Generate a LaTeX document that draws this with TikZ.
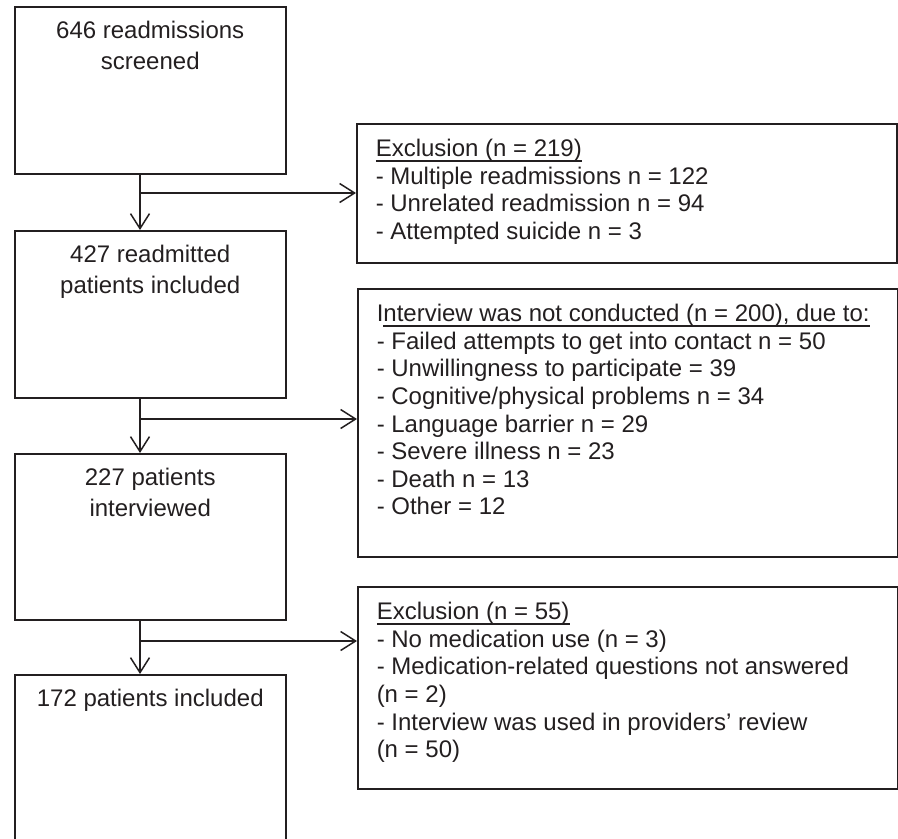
\documentclass[tikz,border=0pt]{standalone}
\usepackage{fontspec}
\setmainfont{Liberation Sans}
\usetikzlibrary{arrows.meta,positioning,calc}
\definecolor{fc-ink}{HTML}{231F20}

% text blocks with a fixed height, first baseline set by a strut
\newcommand{\stagetext}[2]{\parbox[t][#1][t]{271pt}{\centering\rule{0pt}{32pt}#2}}
\newcommand{\droptext}[2]{\parbox[t][#1][t]{502pt}{\raggedright\rule{0pt}{33pt}#2}}
% underline touching the descenders
\newcommand{\headline}[1]{\setbox0\hbox{#1}\rlap{\rule[-5pt]{\wd0}{1.3pt}}\box0}

\begin{document}
\begin{tikzpicture}[
  x=1pt,y=1pt,
  stage/.style={draw=fc-ink,line width=1.5pt,inner sep=0pt,anchor=north west,
                font=\fontsize{24}{31}\selectfont,text=fc-ink},
  drop/.style={draw=fc-ink,line width=1.5pt,inner xsep=19pt,inner ysep=0pt,
               anchor=north west,font=\fontsize{24}{27.6}\selectfont,text=fc-ink},
  ar/.style={-{Straight Barb[length=15pt,width=19pt]},fc-ink,line width=1.5pt}
]
\useasboundingbox (0,0) rectangle (898,-839);

% main flow
\node[stage] (scr) at (14,-6)   {\stagetext{167pt}{646 readmissions\\screened}};
\node[stage] (inc) at (14,-230) {\stagetext{167pt}{427 readmitted\\patients included}};
\node[stage] (itv) at (14,-453) {\stagetext{166pt}{227 patients\\interviewed}};
\node[stage] (fin) at (14,-674) {\stagetext{200pt}{172 patients included}};

% exclusions
\node[drop] (ex1) at (356,-123) {\droptext{139pt}{\headline{Exclusion (n = 219)}\\
  - Multiple readmissions n = 122\\
  - Unrelated readmission n = 94\\
  - Attempted suicide n = 3}};
\node[drop] (ex2) at (357,-288) {\droptext{268pt}{I\headline{nterview was not conducted (n = 200), due to:}\\
  - Failed attempts to get into contact n = 50\\
  - Unwillingness to participate = 39\\
  - Cognitive/physical problems n = 34\\
  - Language barrier n = 29\\
  - Severe illness n = 23\\
  - Death n = 13\\
  - Other = 12}};
\node[drop] (ex3) at (357,-586) {\droptext{202pt}{\headline{Exclusion (n = 55)}\\
  - No medication use (n = 3)\\
  - Medication-related questions not answered\\
  (n = 2)\\
  - Interview was used in providers’ review\\
  (n = 50)}};

% branch points
\coordinate (b1) at (140,-193);
\coordinate (b2) at (140,-419);
\coordinate (b3) at (140,-641);

\draw[ar] (b1 |- scr.south) -- (b1 |- inc.north);
\draw[ar] (b2 |- inc.south) -- (b2 |- itv.north);
\draw[ar] (b3 |- itv.south) -- (b3 |- fin.north);
\draw[ar] (b1) -- (b1 -| ex1.west);
\draw[ar] (b2) -- (b2 -| ex2.west);
\draw[ar] (b3) -- (b3 -| ex3.west);

\end{tikzpicture}
\end{document}
